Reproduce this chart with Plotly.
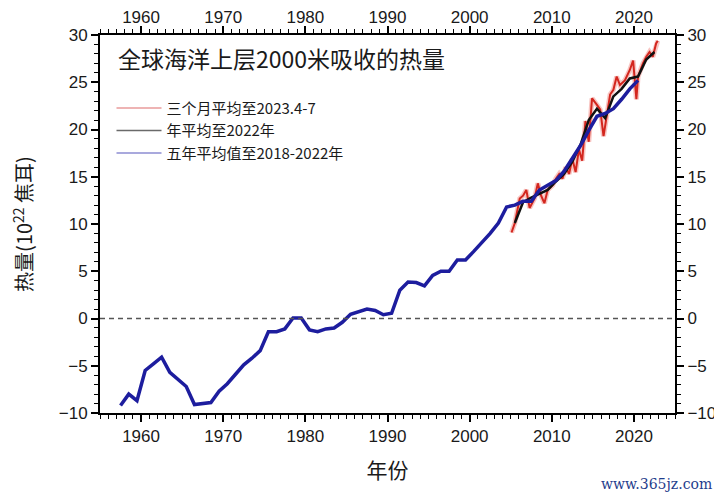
import numpy as np
import plotly.graph_objects as go

# five-year running mean (mid-year positions)
five_year_years = list(range(1957, 2021))
five_year_heat = [
    -9.2, -8.0, -8.7, -5.5, -4.8, -4.1, -5.7, -6.5, -7.2, -9.1,
    -9.0, -8.9, -7.7, -6.9, -5.9, -4.9, -4.2, -3.4, -1.4, -1.4,
    -1.1, 0.05, 0.05, -1.2, -1.4, -1.1, -1.0, -0.4, 0.45, 0.75,
    1.0, 0.85, 0.4, 0.55, 3.0, 3.85, 3.8, 3.45, 4.55, 5.0,
    5.0, 6.2, 6.2, 7.1, 8.0, 9.0, 10.1, 11.8, 12.0, 12.4,
    12.4, 13.6, 14.1, 14.6, 15.6, 17.0, 18.3, 19.9, 21.4, 21.7,
    22.2, 23.2, 24.3, 25.2,
]

# annual mean
annual_years = list(range(2005, 2023))
annual_heat = [
    10.1, 12.3, 12.8, 13.2, 13.6, 14.5, 15.3, 16.6, 18.4, 21.0,
    22.2, 21.2, 23.5, 24.3, 25.4, 25.6, 27.4, 28.2,
]

# three-month mean
seasonal_time = [
    2005.1, 2005.5, 2006.1, 2006.5, 2006.9, 2007.3, 2007.9, 2008.3, 2008.7, 2009.1,
    2009.5, 2010.1, 2010.5, 2010.9, 2011.3, 2011.7, 2012.1, 2012.5, 2012.9, 2013.3,
    2013.7, 2014.1, 2014.5, 2014.9, 2015.5, 2015.9, 2016.3, 2016.7, 2017.1, 2017.5,
    2017.9, 2018.3, 2018.9, 2019.5, 2019.9, 2020.3, 2020.5, 2021.1, 2021.5, 2021.9,
    2022.3, 2022.7, 2022.9,
]
seasonal_heat = [
    9.1, 10.1, 12.7, 13.0, 13.6, 11.7, 12.7, 14.3, 13.0, 12.2,
    13.6, 14.1, 14.8, 15.3, 14.8, 16.0, 15.3, 16.9, 15.5, 17.9,
    16.7, 20.9, 18.7, 23.3, 22.6, 22.1, 19.3, 21.4, 23.7, 24.2,
    25.6, 24.7, 25.2, 26.3, 27.3, 23.2, 25.6, 27.0, 27.7, 28.2,
    27.7, 29.1, 29.4,
]

legend_names = ["三个月平均至2023.4-7", "年平均至2022年", "五年平均值至2018-2022年"]
legend_colors = ["#e99b9b", "#6a6a6a", "#8c8cd2"]

tick_font = dict(family="Liberation Sans, Arial, sans-serif", size=17, color="#1a1a1a")
cjk = "Noto Sans CJK SC, sans-serif"

fig = go.Figure()

# red with a soft halo
fig.add_trace(go.Scatter(x=seasonal_time, y=seasonal_heat, mode="lines",
                         line=dict(color="rgba(235,90,80,0.35)", width=5),
                         showlegend=False, hoverinfo="skip"))
fig.add_trace(go.Scatter(x=seasonal_time, y=seasonal_heat, mode="lines",
                         line=dict(color="#d3261e", width=2), showlegend=False))
fig.add_trace(go.Scatter(x=np.array(annual_years) + 0.5, y=annual_heat, mode="lines",
                         line=dict(color="#111111", width=2.5), showlegend=False))
fig.add_trace(go.Scatter(x=np.array(five_year_years) + 0.5, y=five_year_heat, mode="lines",
                         line=dict(color="#1d1d9e", width=3.5), showlegend=False))

# thin, light legend samples
for i, (name, col) in enumerate(zip(legend_names, legend_colors)):
    fig.add_trace(go.Scatter(x=[None], y=[None], mode="lines", name=name,
                             legendgroup=str(i), line=dict(color=col, width=1.5)))

# dummy trace so the top/right axes render
fig.add_trace(go.Scatter(x=[None], y=[None], xaxis="x2", yaxis="y2", showlegend=False))

fig.add_hline(y=0, line=dict(color="#555555", width=1.5, dash="5px,4px"))

axis_common = dict(
    showline=True, linecolor="black", linewidth=2,
    ticks="outside", ticklen=7, tickwidth=1.5, tickcolor="black",
    showgrid=False, zeroline=False, tickfont=tick_font, automargin=False,
)
x_common = dict(range=[1955, 2025], tick0=1960, dtick=10,
                minor=dict(dtick=1, ticks="outside", ticklen=4, tickwidth=1, tickcolor="black"),
                **axis_common)
y_common = dict(range=[-10, 30], tick0=0, dtick=5,
                minor=dict(dtick=1, ticks="outside", ticklen=4, tickwidth=1, tickcolor="black"),
                **axis_common)

# page body adds an 8px offset, so the figure is a little smaller than the window
fig.update_layout(
    width=714, height=492,
    margin=dict(l=92, r=47, t=27, b=87),
    plot_bgcolor="white", paper_bgcolor="white",
    xaxis=dict(title=dict(text="年份", font=dict(family=cjk, size=21, color="#1a1a1a"), standoff=18),
               **x_common),
    xaxis2=dict(overlaying="x", side="top", anchor="y", ticklabelstandoff=-4, **x_common),
    yaxis=dict(title=dict(text="热量(10<sup>22</sup> 焦耳)",
                          font=dict(family=cjk, size=20, color="#1a1a1a"), standoff=32),
               **y_common),
    yaxis2=dict(overlaying="y", side="right", anchor="x", **y_common),
    legend=dict(x=0.02, y=0.85, xanchor="left", yanchor="top",
                bgcolor="rgba(0,0,0,0)", tracegroupgap=0, itemwidth=45,
                font=dict(family=cjk, size=15, color="#1a1a1a")),
    showlegend=True,
)

fig.add_annotation(text="全球海洋上层2000米吸收的热量", xref="paper", yref="paper",
                   x=0.028, y=0.94, xanchor="left", yanchor="middle", showarrow=False,
                   font=dict(family=cjk, size=23, color="#1a1a1a"))
fig.add_annotation(text="www.365jz.com", xref="paper", yref="paper",
                   x=0.967, y=-0.1875, xanchor="center", yanchor="middle", showarrow=False,
                   font=dict(family="DejaVu Serif, serif", size=14, color="#1f3d8c"))

fig.write_html("out.html")
